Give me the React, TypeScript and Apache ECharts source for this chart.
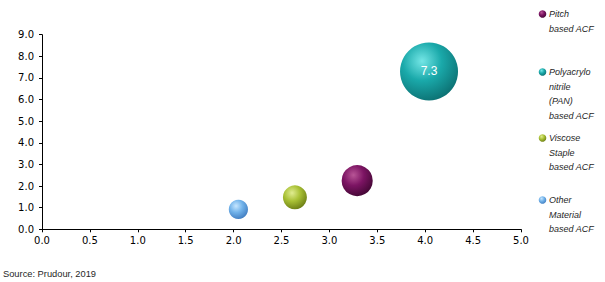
import React, { useEffect, useRef } from "react";
import * as echarts from "echarts";

const seriesNames = [
  "Pitch based ACF",
  "Polyacrylonitrile (PAN) based ACF",
  "Viscose Staple based ACF",
  "Other Material based ACF",
];
const legendLines = [
  ["Pitch", "based ACF"],
  ["Polyacrylo", "nitrile", "(PAN)", "based ACF"],
  ["Viscose", "Staple", "based ACF"],
  ["Other", "Material", "based ACF"],
];
const xValues = [3.29, 4.04, 2.64, 2.05];
const yValues = [2.25, 7.3, 1.48, 0.92];
const bubbleSizes = [2.1, 7.3, 1.25, 0.8];
const showLabel = [false, true, false, false];
const sourceText = "Source: Prudour, 2019";

// styling (not data)
const palette = [
  { hi: "#b85596", base: "#7c1463", edge: "#3e0630" },
  { hi: "#74e6e6", base: "#1aa9aa", edge: "#0b6c6e" },
  { hi: "#e0ec90", base: "#a9c135", edge: "#667712" },
  { hi: "#c6e6ff", base: "#72b3ea", edge: "#3c78bd" },
];
const legendTop = [14, 72, 138, 200];
const MAX_DIAM = 58;

function grad(p: { hi: string; base: string; edge: string }) {
  return {
    type: "radial",
    x: 0.38,
    y: 0.32,
    r: 0.75,
    colorStops: [
      { offset: 0, color: p.hi },
      { offset: 0.45, color: p.base },
      { offset: 1, color: p.edge },
    ],
  };
}

export default function App() {
  const ref = useRef<HTMLDivElement>(null);
  useEffect(() => {
    if (!ref.current) return;
    const chart = echarts.init(ref.current, null, { renderer: "svg" });
    const maxSize = Math.max(...bubbleSizes);
    const series = seriesNames.map((name, i) => ({
      type: "scatter",
      name,
      data: [[xValues[i], yValues[i], bubbleSizes[i]]],
      symbolSize: (v: number[]) => Math.sqrt(v[2] / maxSize) * MAX_DIAM,
      itemStyle: { color: grad(palette[i]), opacity: 1 },
      label: {
        show: showLabel[i],
        position: "inside",
        formatter: (p: any) => p.value[1].toFixed(1),
        color: "#ffffff",
        fontFamily: "Liberation Sans",
        fontSize: 12,
      },
      z: 3,
    }));

    const graphic: any[] = [];
    legendLines.forEach((lines, i) => {
      const top = legendTop[i];
      graphic.push({
        type: "circle",
        shape: { cx: 542.5, cy: top, r: 3.8 },
        style: { fill: grad(palette[i]) as any },
      });
      lines.forEach((ln, j) => {
        graphic.push({
          type: "text",
          x: 549,
          y: top + j * 14.5,
          style: {
            text: ln,
            fill: "#262626",
            font: "italic 9px 'Liberation Sans'",
            verticalAlign: "middle",
          },
        });
      });
    });
    graphic.push({
      type: "text",
      x: 3,
      y: 273.5,
      style: {
        text: sourceText,
        fill: "#262626",
        font: "9.3px 'Liberation Sans'",
        verticalAlign: "middle",
      },
    });

    chart.setOption({
      animation: false,
      grid: { left: 42, right: 84, top: 34.7, bottom: 52.7 },
      xAxis: {
        type: "value",
        min: 0,
        max: 5,
        interval: 0.5,
        splitLine: { show: false },
        axisLine: { show: true, onZero: false, lineStyle: { color: "#000", width: 1 } },
        axisTick: { show: true, length: 3, lineStyle: { color: "#000" } },
        axisLabel: {
          formatter: (v: number) => v.toFixed(1),
          color: "#000",
          fontFamily: "DejaVu Sans",
          fontSize: 10,
          margin: 6,
        },
      },
      yAxis: {
        type: "value",
        min: 0,
        max: 9,
        interval: 1,
        splitLine: { show: false },
        axisLine: { show: true, onZero: false, lineStyle: { color: "#000", width: 1 } },
        axisTick: { show: true, length: 3, lineStyle: { color: "#000" } },
        axisLabel: {
          formatter: (v: number) => v.toFixed(1),
          color: "#000",
          fontFamily: "DejaVu Sans",
          fontSize: 10,
          margin: 8,
        },
      },
      series,
      graphic,
    } as any);
    return () => chart.dispose();
  }, []);
  return <div ref={ref} style={{ width: 605, height: 282, position: "absolute", left: 0, top: 0 }} />;
}
